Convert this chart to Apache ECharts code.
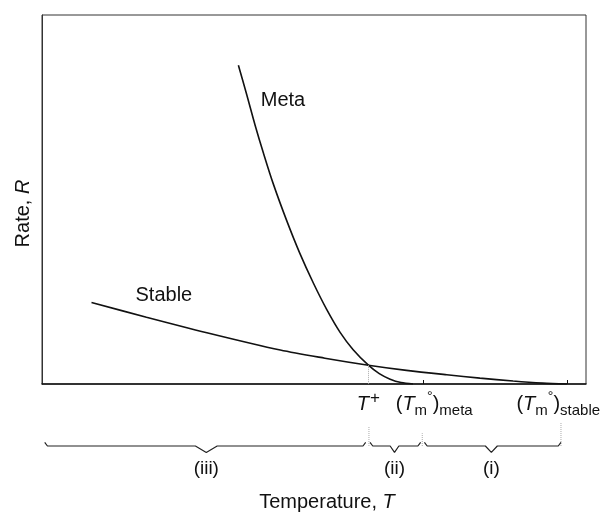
<!DOCTYPE html>
<html>
<head>
<meta charset="utf-8">
<script src="https://cdn.jsdelivr.net/npm/echarts@6/dist/echarts.min.js"></script>
<style>
  html, body { margin: 0; padding: 0; background: #fff; }
  #chart { width: 603px; height: 512px; }
</style>
</head>
<body>
<div id="chart"></div>
<script>
// rate curves (temperature in arbitrary units 0-100, rate in arbitrary units 0-100)
const metaT = [36.1, 37.6, 39.2, 40.7, 42.5, 45.0, 47.4, 49.9, 52.3, 54.8, 57.2, 60.0, 62.0, 64.0, 66.0, 68.2]
const metaR = [86.4, 78.6, 70.0, 62.6, 54.3, 44.2, 35.4, 27.3, 20.3, 14.0, 9.3, 5.1, 2.8, 1.3, 0.4, 0]
const stableT = [9.1, 19.2, 30.3, 43.8, 52.0, 60.0, 67.0, 74.4, 80.5, 86.6, 92.0, 96.5]
const stableR = [22.1, 18.1, 13.9, 9.2, 7.0, 5.1, 3.7, 2.5, 1.6, 0.8, 0.25, 0]

// special temperatures on the x axis
const tickAt = [70, 96.6]
const tickLabelAt = [60, 72.1, 94.9]
const tickLabels = ['{it|T}{plus|+}', '({it|T}{sub|m}{sup|°}){sub|meta}', '({it|T}{sub|m}{sup|°}){sub|stable}']
const crossT = 60
const crossR = 5.1

// regions shown as braces below the axis
const braceFrom = [0.5, 60.3, 70.3]
const braceTo = [59.5, 69.6, 95.4]
const braceTip = [30.2, 64.8, 82.6]
const braceTipHalf = [2.0, 0.8, 1.1]
const braceNames = ['(iii)', '(ii)', '(i)']
const guideX = [60.1, 69.9, 95.4]
const guideTop = [2.4, 1.6, 3.0]

// curve names
const curveNames = ['Meta', 'Stable']
const curveNameAt = [[44.3, 76.9], [22.4, 23.9]]

const FONT = '"Liberation Sans", Arial, sans-serif'
const pair = (xs, ys) => xs.map((x, i) => [x, ys[i]])

const rich = {
    it: { fontStyle: 'italic', fontSize: 20, fontFamily: FONT, color: '#111', lineHeight: 28 },
    sub: { fontSize: 15, fontFamily: FONT, color: '#111', lineHeight: 13, verticalAlign: 'bottom' },
    sup: { fontSize: 14, fontFamily: FONT, color: '#111', lineHeight: 16, verticalAlign: 'top' },
    plus: { fontSize: 17, fontFamily: FONT, color: '#111', lineHeight: 18, verticalAlign: 'top', padding: [0, 0, 0, 1] },
}

const braceSeries = braceFrom.map((a, i) => {
    const b = braceTo[i]
    const m = braceTip[i]
    const h = braceTipHalf[i]
    return {
        type: 'line',
        xAxisIndex: 1,
        yAxisIndex: 1,
        silent: true,
        symbol: 'circle',
        symbolSize: 0,
        showSymbol: true,
        lineStyle: { color: '#222', width: 1.2 },
        data: [
            [a, 0.45],
            [a + 0.5, 0],
            [m - h, 0],
            { value: [m, -0.8], label: { show: true, position: 'bottom', distance: 7, formatter: braceNames[i], fontSize: 19, fontFamily: FONT, color: '#111' } },
            [m + h, 0],
            [b - 0.5, 0],
            [b, 0.45],
        ],
    }
})

const guideSeries = guideX.map((x, i) => ({
    type: 'line',
    xAxisIndex: 1,
    yAxisIndex: 1,
    silent: true,
    symbol: 'none',
    lineStyle: { color: '#aaa', width: 1, type: 'dotted' },
    data: [[x, 0], [x, guideTop[i]]],
}))

const nameMark = (i) => ({
    silent: true,
    symbol: 'circle',
    symbolSize: 1,
    itemStyle: { color: 'transparent' },
    label: { show: true, position: 'inside', formatter: curveNames[i], fontSize: 20, fontFamily: FONT, color: '#111' },
    data: [{ coord: curveNameAt[i] }],
})

const chart = echarts.init(document.getElementById('chart'), null, { renderer: 'canvas' })
chart.setOption({
    backgroundColor: '#fff',
    animation: false,
    grid: [
        { left: 42, right: 17, top: 15, bottom: 128, show: true, borderColor: '#333', borderWidth: 1, outerBoundsMode: 'none', containLabel: false },
        { left: 42, right: 17, top: 422, height: 32, outerBoundsMode: 'none', containLabel: false },
    ],
    xAxis: [
        {
            type: 'value',
            min: 0,
            max: 100,
            splitLine: { show: false },
            axisLine: { show: true, lineStyle: { color: '#111', width: 1.5 } },
            axisTick: { show: true, inside: true, length: 4, customValues: tickAt, lineStyle: { color: '#111' } },
            axisLabel: {
                show: true,
                customValues: tickLabelAt,
                margin: 6,
                formatter: (v) => tickLabels[tickLabelAt.indexOf(v)] || '',
                fontSize: 20,
                fontFamily: FONT,
                color: '#111',
                lineHeight: 28,
                rich,
            },
            name: 'Temperature, {it|T}',
            nameLocation: 'middle',
            nameGap: 104,
            nameTextStyle: { fontSize: 20, fontFamily: FONT, color: '#111', padding: [0, 0, 0, 26], rich },
        },
        { type: 'value', gridIndex: 1, min: 0, max: 100, show: false },
    ],
    yAxis: [
        {
            type: 'value',
            min: 0,
            max: 100,
            splitLine: { show: false },
            axisLine: { show: true, lineStyle: { color: '#333', width: 1 } },
            axisTick: { show: false },
            axisLabel: { show: false },
            name: 'Rate, {it|R}',
            nameLocation: 'middle',
            nameGap: 5,
            nameTextStyle: { fontSize: 20, fontFamily: FONT, color: '#111', padding: [0, 28, 0, 0], rich },
        },
        { type: 'value', gridIndex: 1, min: -1, max: 3, show: false },
    ],
    series: [
        {
            name: 'Meta',
            type: 'line',
            smooth: 0.3,
            symbol: 'none',
            lineStyle: { color: '#111', width: 1.6 },
            data: pair(metaT, metaR),
            markPoint: nameMark(0),
        },
        {
            name: 'Stable',
            type: 'line',
            smooth: 0.3,
            symbol: 'none',
            lineStyle: { color: '#111', width: 1.6 },
            data: pair(stableT, stableR),
            markPoint: nameMark(1),
            markLine: {
                silent: true,
                symbol: 'none',
                label: { show: false },
                lineStyle: { color: '#aaa', width: 1, type: 'dotted' },
                data: [[{ coord: [crossT, crossR] }, { coord: [crossT, 0] }]],
            },
        },
        ...guideSeries,
        ...braceSeries,
    ],
})
</script>
</body>
</html>
